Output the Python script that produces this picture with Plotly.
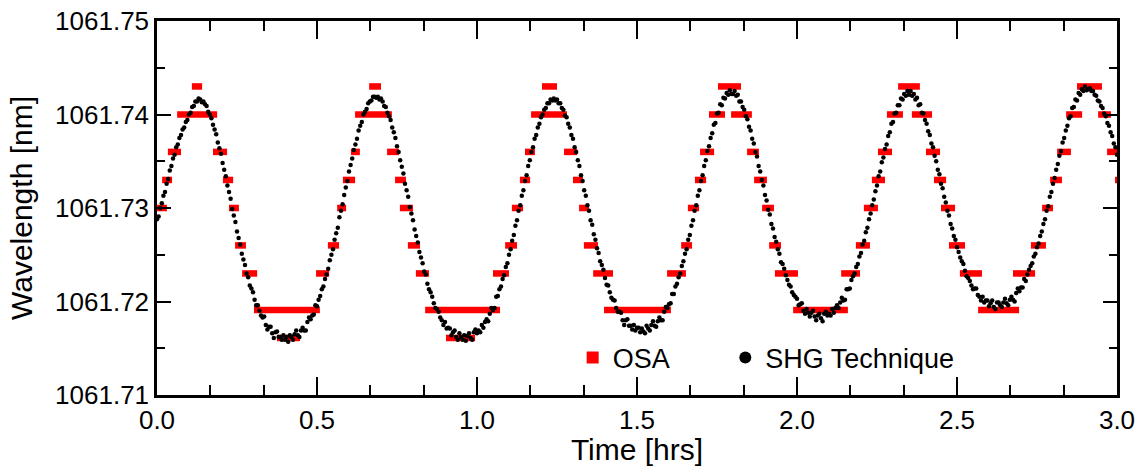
import plotly.graph_objects as go

# ---------------- data ----------------
# SHG sample times (hours)
shg_time = [
0.000,0.005,0.010,0.015,0.020,0.025,0.030,0.035,0.040,0.045,0.050,0.055,0.060,0.065,0.070,0.075,0.080,0.085,0.090,0.095,
0.100,0.105,0.110,0.115,0.120,0.125,0.130,0.135,0.140,0.145,0.150,0.155,0.160,0.165,0.170,0.175,0.180,0.185,0.190,0.195,
0.200,0.205,0.210,0.215,0.220,0.225,0.230,0.235,0.240,0.245,0.250,0.255,0.260,0.265,0.270,0.275,0.280,0.285,0.290,0.295,
0.300,0.305,0.310,0.315,0.320,0.325,0.330,0.335,0.340,0.345,0.350,0.355,0.360,0.365,0.370,0.375,0.380,0.385,0.390,0.395,
0.400,0.405,0.410,0.415,0.420,0.425,0.430,0.435,0.440,0.445,0.450,0.455,0.460,0.465,0.470,0.475,0.480,0.485,0.490,0.495,
0.500,0.505,0.510,0.515,0.520,0.525,0.530,0.535,0.540,0.545,0.550,0.555,0.560,0.565,0.570,0.575,0.580,0.585,0.590,0.595,
0.600,0.605,0.610,0.615,0.620,0.625,0.630,0.635,0.640,0.645,0.650,0.655,0.660,0.665,0.670,0.675,0.680,0.685,0.690,0.695,
0.700,0.705,0.710,0.715,0.720,0.725,0.730,0.735,0.740,0.745,0.750,0.755,0.760,0.765,0.770,0.775,0.780,0.785,0.790,0.795,
0.800,0.805,0.810,0.815,0.820,0.825,0.830,0.835,0.840,0.845,0.850,0.855,0.860,0.865,0.870,0.875,0.880,0.885,0.890,0.895,
0.900,0.905,0.910,0.915,0.920,0.925,0.930,0.935,0.940,0.945,0.950,0.955,0.960,0.965,0.970,0.975,0.980,0.985,0.990,0.995,
1.000,1.005,1.010,1.015,1.020,1.025,1.030,1.035,1.040,1.045,1.050,1.055,1.060,1.065,1.070,1.075,1.080,1.085,1.090,1.095,
1.100,1.105,1.110,1.115,1.120,1.125,1.130,1.135,1.140,1.145,1.150,1.155,1.160,1.165,1.170,1.175,1.180,1.185,1.190,1.195,
1.200,1.205,1.210,1.215,1.220,1.225,1.230,1.235,1.240,1.245,1.250,1.255,1.260,1.265,1.270,1.275,1.280,1.285,1.290,1.295,
1.300,1.305,1.310,1.315,1.320,1.325,1.330,1.335,1.340,1.345,1.350,1.355,1.360,1.365,1.370,1.375,1.380,1.385,1.390,1.395,
1.400,1.405,1.410,1.415,1.420,1.425,1.430,1.435,1.440,1.445,1.450,1.455,1.460,1.465,1.470,1.475,1.480,1.485,1.490,1.495,
1.500,1.505,1.510,1.515,1.520,1.525,1.530,1.535,1.540,1.545,1.550,1.555,1.560,1.565,1.570,1.575,1.580,1.585,1.590,1.595,
1.600,1.605,1.610,1.615,1.620,1.625,1.630,1.635,1.640,1.645,1.650,1.655,1.660,1.665,1.670,1.675,1.680,1.685,1.690,1.695,
1.700,1.705,1.710,1.715,1.720,1.725,1.730,1.735,1.740,1.745,1.750,1.755,1.760,1.765,1.770,1.775,1.780,1.785,1.790,1.795,
1.800,1.805,1.810,1.815,1.820,1.825,1.830,1.835,1.840,1.845,1.850,1.855,1.860,1.865,1.870,1.875,1.880,1.885,1.890,1.895,
1.900,1.905,1.910,1.915,1.920,1.925,1.930,1.935,1.940,1.945,1.950,1.955,1.960,1.965,1.970,1.975,1.980,1.985,1.990,1.995,
2.000,2.005,2.010,2.015,2.020,2.025,2.030,2.035,2.040,2.045,2.050,2.055,2.060,2.065,2.070,2.075,2.080,2.085,2.090,2.095,
2.100,2.105,2.110,2.115,2.120,2.125,2.130,2.135,2.140,2.145,2.150,2.155,2.160,2.165,2.170,2.175,2.180,2.185,2.190,2.195,
2.200,2.205,2.210,2.215,2.220,2.225,2.230,2.235,2.240,2.245,2.250,2.255,2.260,2.265,2.270,2.275,2.280,2.285,2.290,2.295,
2.300,2.305,2.310,2.315,2.320,2.325,2.330,2.335,2.340,2.345,2.350,2.355,2.360,2.365,2.370,2.375,2.380,2.385,2.390,2.395,
2.400,2.405,2.410,2.415,2.420,2.425,2.430,2.435,2.440,2.445,2.450,2.455,2.460,2.465,2.470,2.475,2.480,2.485,2.490,2.495,
2.500,2.505,2.510,2.515,2.520,2.525,2.530,2.535,2.540,2.545,2.550,2.555,2.560,2.565,2.570,2.575,2.580,2.585,2.590,2.595,
2.600,2.605,2.610,2.615,2.620,2.625,2.630,2.635,2.640,2.645,2.650,2.655,2.660,2.665,2.670,2.675,2.680,2.685,2.690,2.695,
2.700,2.705,2.710,2.715,2.720,2.725,2.730,2.735,2.740,2.745,2.750,2.755,2.760,2.765,2.770,2.775,2.780,2.785,2.790,2.795,
2.800,2.805,2.810,2.815,2.820,2.825,2.830,2.835,2.840,2.845,2.850,2.855,2.860,2.865,2.870,2.875,2.880,2.885,2.890,2.895,
2.900,2.905,2.910,2.915,2.920,2.925,2.930,2.935,2.940,2.945,2.950,2.955,2.960,2.965,2.970,2.975,2.980,2.985,2.990,2.995,
3.000,
]

# SHG wavelength readings, in units of 0.0001 nm above 1061.7 nm
SHG_BASE_NM = 1061.7
shg_delta_1e4nm = [
288,291,300,305,313,317,326,331,340,345,353,357,365,368,375,378,384,386,392,394,400,402,408,409,414,414,417,
416,413,414,411,409,403,400,396,389,384,379,370,364,358,348,341,334,324,317,310,
299,292,285,275,268,261,251,245,239,230,226,217,214,210,202,196,196,190,185,183,
184,175,170,173,173,166,161,167,168,162,162,159,164,159,162,
157,164,162,159,165,169,164,162,169,172,169,169,178,183,181,185,186,196,195,202,
206,213,216,224,229,235,244,250,256,266,273,279,290,297,304,314,322,329,339,346,
353,362,368,374,383,388,392,400,403,406,412,414,415,419,419,418,
419,416,417,414,409,408,402,398,394,386,381,375,366,360,351,344,337,326,319,312,
301,294,287,277,270,263,253,247,241,232,229,219,213,210,205,198,193,192,189,183,
180,175,178,171,172,171,164,167,169,162,159,166,162,159,164,
158,163,166,161,159,167,170,166,169,167,175,172,178,181,179,187,193,191,193,205,
206,213,216,224,228,237,241,250,256,265,271,281,287,297,303,313,319,329,335,345,
351,360,365,374,378,386,390,397,400,405,407,412,412,416,415,417,
415,416,412,412,407,405,399,397,390,386,378,374,365,360,351,345,335,329,319,313,
303,297,287,282,272,266,257,252,243,239,234,225,218,217,210,204,202,201,193,189,
189,188,180,175,180,181,174,174,170,175,169,172,172,167,171,
168,166,174,171,169,175,179,174,173,179,183,180,180,189,194,193,197,198,208,208,
216,219,226,230,238,243,251,256,266,271,281,287,297,303,313,319,329,335,345,351,
361,366,375,380,389,391,401,402,411,410,418,417,423,421,426,422,
422,425,420,421,414,414,408,405,398,395,387,383,374,369,360,355,345,339,330,324,
314,308,298,293,283,278,269,264,256,251,242,240,235,228,223,218,216,210,207,205,
203,196,197,198,190,187,192,188,184,188,190,184,180,185,187,
182,179,187,189,185,187,185,192,188,193,196,193,199,204,201,202,213,213,214,223,
227,230,237,240,248,252,261,265,274,279,288,294,303,309,318,324,334,339,349,354,
363,368,377,381,390,392,401,402,410,410,417,416,422,420,425,421,
425,420,422,416,418,410,411,402,401,394,390,382,378,369,365,356,350,341,336,326,
321,312,306,297,292,283,278,270,266,258,253,247,243,240,233,227,225,222,217,213,
214,214,207,205,201,205,199,201,201,195,198,201,194,192,199,
199,196,194,199,203,198,196,202,205,202,200,209,214,211,215,215,224,222,229,234,
238,241,248,251,258,262,270,275,283,288,297,302,312,317,326,332,341,347,356,361,
370,375,383,388,396,398,407,408,416,415,423,421,427,425,430,426,
427,428,425,425,421,420,415,414,409,407,401,398,391,388,381,377,369,365,357,
]

# OSA readings: runs of identical readings (start hr, end hr, wavelength nm)
osa_start = [0.000,0.016,0.034,0.063,0.109,0.175,0.206,0.225,0.244,0.266,0.303,0.375,
             0.497,0.534,0.563,0.581,0.606,0.619,0.663,0.719,0.744,0.759,0.784,0.809,0.838,0.903,
             1.050,1.088,1.109,1.134,1.150,1.169,1.203,1.272,1.300,1.319,1.334,1.363,1.397,
             1.594,1.638,1.659,1.681,1.697,1.725,1.753,1.794,1.844,1.866,1.891,1.913,1.931,1.988,
             2.138,2.184,2.209,2.234,2.253,2.281,2.316,2.359,2.403,2.428,2.450,2.475,2.509,2.566,
             2.675,2.731,2.766,2.791,2.813,2.841,2.875,2.941,2.969,2.994]
osa_end = [0.031,0.047,0.075,0.188,0.141,0.219,0.238,0.256,0.278,0.313,0.509,0.447,
           0.538,0.569,0.591,0.619,0.634,0.734,0.700,0.756,0.778,0.800,0.822,0.850,1.072,0.994,
           1.100,1.125,1.144,1.166,1.181,1.281,1.250,1.313,1.331,1.350,1.378,1.425,1.606,
           1.653,1.672,1.694,1.716,1.741,1.775,1.825,1.859,1.881,1.906,1.928,1.950,2.003,2.159,
           2.197,2.228,2.253,2.275,2.297,2.331,2.384,2.422,2.447,2.466,2.494,2.525,2.578,2.694,
           2.744,2.778,2.800,2.828,2.856,2.891,2.953,2.981,3.000,3.000]
osa_level = [1061.7300,1061.7330,1061.7360,1061.7400,1061.7430,1061.7360,1061.7330,1061.7300,1061.7260,1061.7230,1061.7191,1061.7161,
             1061.7230,1061.7260,1061.7300,1061.7330,1061.7360,1061.7400,1061.7430,1061.7360,1061.7330,1061.7300,1061.7260,1061.7230,1061.7191,1061.7161,
             1061.7230,1061.7260,1061.7300,1061.7330,1061.7360,1061.7400,1061.7430,1061.7360,1061.7330,1061.7300,1061.7260,1061.7230,1061.7191,
             1061.7230,1061.7260,1061.7300,1061.7330,1061.7360,1061.7400,1061.7430,1061.7400,1061.7360,1061.7330,1061.7300,1061.7260,1061.7230,1061.7191,
             1061.7230,1061.7260,1061.7300,1061.7330,1061.7360,1061.7400,1061.7430,1061.7400,1061.7360,1061.7330,1061.7300,1061.7260,1061.7230,1061.7191,
             1061.7230,1061.7260,1061.7300,1061.7330,1061.7360,1061.7400,1061.7430,1061.7400,1061.7360,1061.7330]

x_tick_vals = [0.0, 0.5, 1.0, 1.5, 2.0, 2.5, 3.0]
y_tick_vals = [1061.71, 1061.72, 1061.73, 1061.74, 1061.75]

assert len(shg_time) == len(shg_delta_1e4nm), (len(shg_time), len(shg_delta_1e4nm))
assert len(osa_start) == len(osa_end) == len(osa_level)

shg_wl = [SHG_BASE_NM + d * 1e-4 for d in shg_delta_1e4nm]
osa_len = [e - s for s, e in zip(osa_start, osa_end)]

FONT = "Liberation Sans, Arial, Helvetica, sans-serif"

fig = go.Figure()
fig.add_trace(go.Bar(
    orientation="h", y=osa_level, x=osa_len, base=osa_start, width=0.0007,
    marker=dict(color="#ff0000", line=dict(width=0)), name="OSA", legend="legend"))
fig.add_trace(go.Scatter(
    x=shg_time, y=shg_wl, mode="markers",
    marker=dict(color="black", size=4.5, line=dict(width=0)), name="SHG Technique",
    legend="legend2"))

axis_common = dict(
    showline=True, linewidth=2.5, linecolor="black", mirror="ticks",
    ticks="inside", tickwidth=2, tickcolor="black", automargin=False,
    ticklabeloverflow="allow",
    showgrid=False, zeroline=False, tickfont=dict(size=26, family=FONT, color="black"),
)

fig.update_xaxes(
    range=[0, 3], tickvals=x_tick_vals, tickformat=".1f", ticklen=18,
    minor=dict(dtick=0.5 / 3, tick0=0, ticks="inside", ticklen=10, tickwidth=2,
               tickcolor="black", showgrid=False),
    title=dict(text="Time [hrs]", font=dict(size=30, family=FONT, color="black"), standoff=0),
    **axis_common)
fig.update_yaxes(
    type="linear", range=[1061.71, 1061.75], tickvals=y_tick_vals, tickformat=".2f", ticklen=14,
    minor=dict(dtick=0.005, tick0=1061.71, ticks="inside", ticklen=8, tickwidth=2,
               tickcolor="black", showgrid=False),
    title=dict(text="Wavelength [nm]", font=dict(size=30, family=FONT, color="black"), standoff=14),
    **axis_common)

legend_common = dict(orientation="h", xanchor="left", yanchor="middle",
                     bgcolor="rgba(0,0,0,0)", borderwidth=0, itemsizing="constant",
                     font=dict(size=27, family=FONT, color="black"))

fig.update_layout(
    width=1135, height=466,
    margin=dict(l=157, r=18, t=21, b=71, autoexpand=False),
    paper_bgcolor="white", plot_bgcolor="white",
    font=dict(family=FONT, size=26, color="black"),
    showlegend=True,
    legend=dict(x=0.433, y=0.099, **legend_common),
    legend2=dict(x=0.592, y=0.099, **legend_common),
)

fig.write_html("out.html", config={"displayModeBar": False},
               post_script="document.body.style.margin='0px';")
